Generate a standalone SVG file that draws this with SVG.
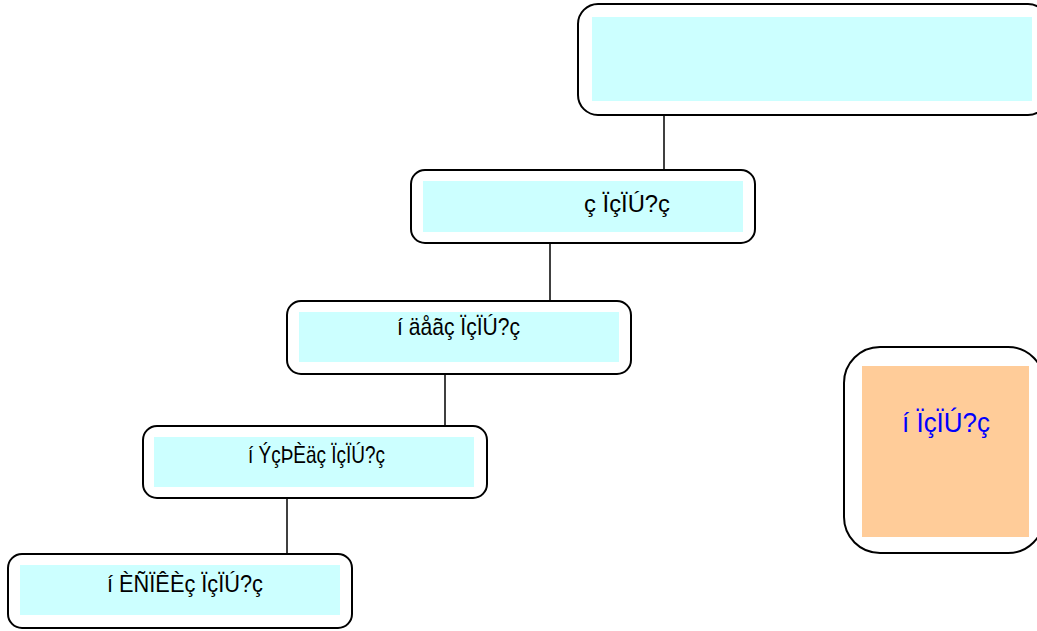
<svg xmlns="http://www.w3.org/2000/svg" width="1037" height="631" viewBox="0 0 1037 631">
<style>
.outer{fill:#fff;stroke:#000;stroke-width:2}
.inner{fill:#ccffff}
.peach{fill:#ffcc99}
.lbl{font-family:"Liberation Sans",Arial,sans-serif;font-size:24px;fill:#000}
.blue{fill:#0000ff;font-size:28px}
.conn{stroke:#000;stroke-width:1.5;fill:none}
</style>
<rect width="1037" height="631" fill="#fff"/>
<g id="connectors">
<line class="conn" x1="664" y1="115" x2="664" y2="171"/>
<line class="conn" x1="550" y1="243" x2="550" y2="301"/>
<line class="conn" x1="445" y1="374" x2="445" y2="431"/>
<line class="conn" x1="287" y1="498" x2="287" y2="556"/>
</g>
<g id="node1">
<rect class="outer" x="578" y="4" width="470" height="111" rx="20"/>
<rect class="inner" x="592" y="17" width="440" height="84"/>
</g>
<g id="node2">
<rect class="outer" x="411" y="170" width="344" height="73" rx="14"/>
<rect class="inner" x="423" y="181" width="320" height="51"/>
<text class="lbl" x="584" y="212" textLength="86" lengthAdjust="spacingAndGlyphs">ç ÏçÏÚ?ç</text>
</g>
<g id="node3">
<rect class="outer" x="287" y="301" width="344" height="73" rx="14"/>
<rect class="inner" x="299" y="312" width="320" height="50"/>
<text class="lbl" x="397" y="335" textLength="123" lengthAdjust="spacingAndGlyphs">í äåãç ÏçÏÚ?ç</text>
</g>
<g id="node4">
<rect class="outer" x="143" y="426" width="344" height="72" rx="14"/>
<rect class="inner" x="154" y="437" width="320" height="50"/>
<text class="lbl" x="248" y="463" textLength="137" lengthAdjust="spacingAndGlyphs">í ÝçÞÈäç ÏçÏÚ?ç</text>
</g>
<g id="node5">
<rect class="outer" x="8" y="554" width="344" height="74" rx="14"/>
<rect class="inner" x="20" y="565" width="320" height="50"/>
<text class="lbl" x="107" y="592" textLength="156" lengthAdjust="spacingAndGlyphs">í ÈÑÏÊÈç ÏçÏÚ?ç</text>
</g>
<g id="node6">
<rect class="outer" x="844" y="347" width="200" height="206" rx="36"/>
<rect class="peach" x="862" y="366" width="167" height="171"/>
<text class="lbl blue" x="902" y="432" textLength="88" lengthAdjust="spacingAndGlyphs">í ÏçÏÚ?ç</text>
</g>
</svg>
